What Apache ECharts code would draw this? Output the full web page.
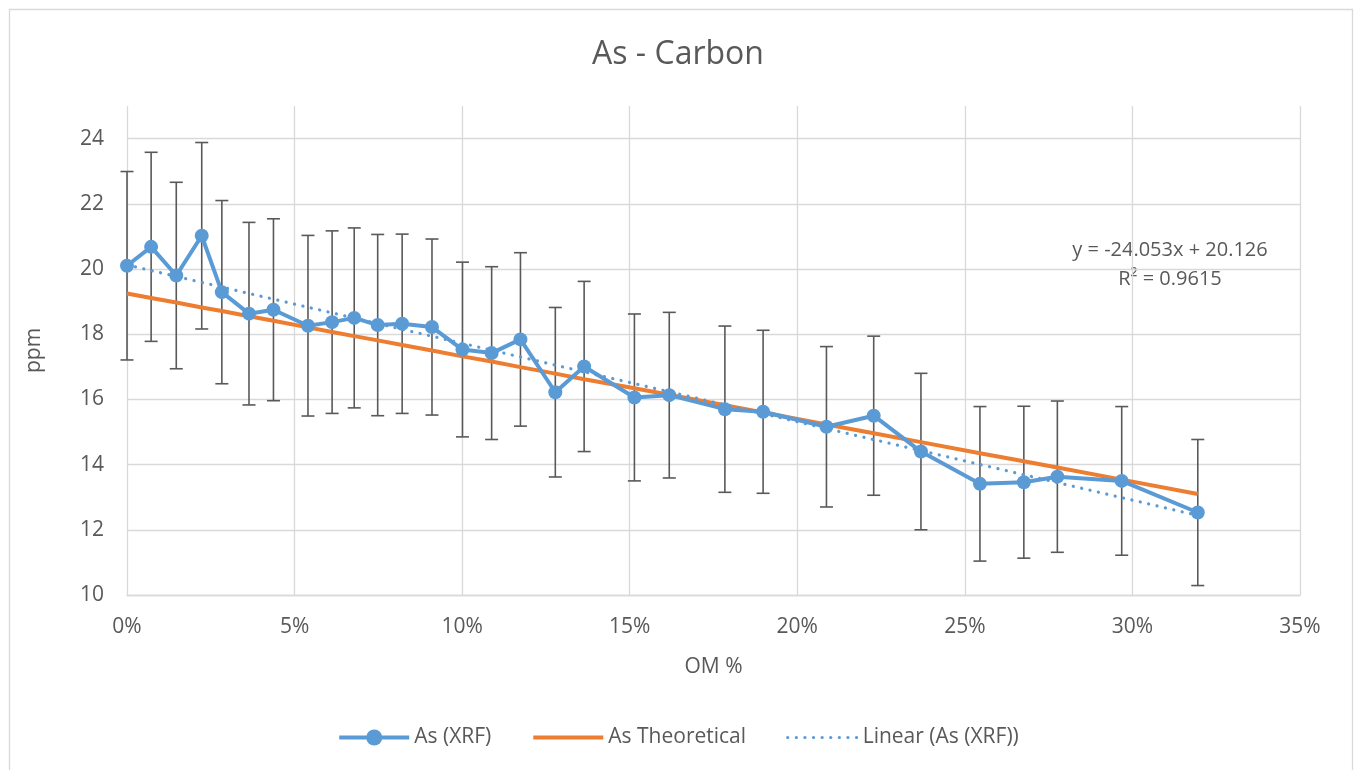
<!DOCTYPE html>
<html>
<head>
<meta charset="utf-8">
<title>As - Carbon</title>
<script src="https://cdn.jsdelivr.net/npm/echarts@6/dist/echarts.min.js"></script>
<style>
  html, body { margin: 0; padding: 0; background: #ffffff; }
  #chart { width: 1356px; height: 770px; }
</style>
</head>
<body>
<div id="chart"></div>
<script>
// Organic matter content (fraction, shown as %)
const omFraction = [
  0, 0.0072, 0.0147, 0.0223, 0.0283, 0.0364, 0.0437, 0.0540, 0.0612, 0.0678,
  0.0748, 0.0821, 0.0910, 0.1001, 0.1088, 0.1174, 0.1278, 0.1364, 0.1514, 0.1618,
  0.1784, 0.1898, 0.2087, 0.2228, 0.2369, 0.2545, 0.2676, 0.2776, 0.2968, 0.3195
];
// Measured arsenic by XRF (ppm)
const asXrf = [
  20.10, 20.68, 19.80, 21.02, 19.29, 18.63, 18.75, 18.26, 18.37, 18.50,
  18.28, 18.32, 18.22, 17.53, 17.42, 17.84, 16.22, 17.01, 16.06, 16.13,
  15.70, 15.62, 15.16, 15.50, 14.40, 13.41, 13.46, 13.63, 13.50, 12.53
];
// Measurement uncertainty (± ppm)
const asXrfError = [
  2.89, 2.90, 2.86, 2.86, 2.81, 2.80, 2.79, 2.77, 2.80, 2.76,
  2.78, 2.75, 2.70, 2.68, 2.65, 2.66, 2.60, 2.61, 2.56, 2.54,
  2.55, 2.50, 2.46, 2.44, 2.40, 2.37, 2.33, 2.32, 2.28, 2.24
];
// Expected arsenic from dilution by organic matter (ppm)
const asTheoretical = [
  19.25, 19.11, 18.97, 18.82, 18.71, 18.55, 18.41, 18.21, 18.07, 17.94,
  17.81, 17.67, 17.50, 17.32, 17.16, 16.99, 16.79, 16.62, 16.34, 16.14,
  15.82, 15.60, 15.23, 14.96, 14.69, 14.35, 14.10, 13.91, 13.54, 13.10
];
// Least-squares fit of the XRF series
const trendSlope = -24.053;
const trendIntercept = 20.126;
const trendR2 = 0.9615;

const seriesNames = ['As (XRF)', 'As Theoretical', 'Linear (As (XRF))'];

const TEXT = '#595959';
const GRID = '#d9d9d9';
const FONT = 'Open Sans';
const BLUE = '#5B9BD5';
const ORANGE = '#ED7D31';
const NO_MARK = { color: 'rgba(0,0,0,0)', borderWidth: 0, opacity: 0 };

const xrfData = omFraction.map((x, i) => [x, asXrf[i]]);
const theoData = omFraction.map((x, i) => [x, asTheoretical[i]]);
const errData = omFraction.map((x, i) => [x, asXrf[i], asXrfError[i]]);
const xStart = omFraction[0];
const xEnd = omFraction[omFraction.length - 1];
const trendData = [
  [xStart, trendIntercept + trendSlope * xStart],
  [xEnd, trendIntercept + trendSlope * xEnd]
];

const chart = echarts.init(document.getElementById('chart'), null, { renderer: 'canvas' });

const option = {
  backgroundColor: '#ffffff',
  animation: false,
  textStyle: { fontFamily: FONT },
  title: {
    text: 'As - Carbon',
    left: 'center',
    top: 34,
    textStyle: { fontFamily: FONT, fontSize: 32, fontWeight: 'normal', color: TEXT }
  },
  grid: { left: 127, right: 56, top: 106, bottom: 175, containLabel: false },
  legend: {
    bottom: 17,
    left: 'center',
    itemWidth: 70,
    itemHeight: 20,
    itemGap: 40,
    data: [
      { name: seriesNames[0], lineStyle: { width: 4, color: BLUE } },
      { name: seriesNames[1], itemStyle: NO_MARK, lineStyle: { width: 4, color: ORANGE } },
      { name: seriesNames[2], itemStyle: NO_MARK, lineStyle: { width: 3.2, color: BLUE, type: [0.1, 8.5], cap: 'round' } }
    ],
    textStyle: { fontFamily: FONT, fontSize: 21, color: TEXT }
  },
  xAxis: {
    type: 'value',
    min: 0,
    max: 0.35,
    interval: 0.05,
    name: 'OM %',
    nameLocation: 'middle',
    nameGap: 62,
    nameTextStyle: { fontFamily: FONT, fontSize: 21, color: TEXT },
    axisLine: { show: true, lineStyle: { color: GRID, width: 1.3 } },
    axisTick: { show: false },
    axisLabel: {
      margin: 22,
      fontFamily: FONT, fontSize: 21, color: TEXT,
      formatter: v => Math.round(v * 100) + '%'
    },
    splitLine: { show: true, lineStyle: { color: GRID, width: 1.3 } }
  },
  yAxis: {
    type: 'value',
    min: 10,
    max: 25,
    interval: 2,
    name: 'ppm',
    nameLocation: 'middle',
    nameGap: 82,
    nameRotate: 90,
    nameTextStyle: { fontFamily: FONT, fontSize: 21, color: TEXT },
    axisLine: { show: false },
    axisTick: { show: false },
    axisLabel: {
      margin: 23,
      fontFamily: FONT, fontSize: 21, color: TEXT,
      showMaxLabel: false,
      formatter: v => (v === 25 ? '' : String(v))
    },
    splitLine: { show: true, showMaxLine: false, lineStyle: { color: GRID, width: 1.3 } }
  },
  series: [
    {
      // ± error bars for the XRF readings
      type: 'custom',
      name: 'errorbars',
      data: errData,
      z: 1,
      silent: true,
      renderItem: function (params, api) {
        const x = api.value(0);
        const y = api.value(1);
        const e = api.value(2);
        const top = api.coord([x, y + e]);
        const bot = api.coord([x, y - e]);
        const half = 6.5;
        const style = { stroke: '#595959', lineWidth: 1.6, fill: null };
        return {
          type: 'group',
          children: [
            { type: 'line', shape: { x1: top[0], y1: top[1], x2: bot[0], y2: bot[1] }, style },
            { type: 'line', shape: { x1: top[0] - half, y1: top[1], x2: top[0] + half, y2: top[1] }, style },
            { type: 'line', shape: { x1: bot[0] - half, y1: bot[1], x2: bot[0] + half, y2: bot[1] }, style }
          ]
        };
      }
    },
    {
      name: seriesNames[1],
      type: 'line',
      data: theoData,
      z: 2,
      symbol: 'none',
      lineStyle: { color: ORANGE, width: 4 },
      itemStyle: { color: ORANGE }
    },
    {
      name: seriesNames[0],
      type: 'line',
      data: xrfData,
      z: 3,
      symbol: 'circle',
      symbolSize: 14,
      lineStyle: { color: BLUE, width: 4 },
      itemStyle: { color: BLUE, borderWidth: 0 }
    },
    {
      name: seriesNames[2],
      type: 'line',
      data: trendData,
      z: 4,
      symbol: 'none',
      lineStyle: { color: BLUE, width: 3.2, type: [0.1, 8.5], cap: 'round' },
      itemStyle: { color: BLUE }
    }
  ],
  graphic: [
    {
      type: 'rect',
      left: 7, top: 7,
      shape: { width: 1343, height: 780 },
      style: { fill: null, stroke: GRID, lineWidth: 1.3 },
      silent: true,
      z: -1
    },
    {
      type: 'text',
      x: 1170, y: 250,
      style: {
        text: 'y = ' + trendSlope.toFixed(3) + 'x + ' + trendIntercept.toFixed(3),
        fontFamily: FONT, fontSize: 20, fill: TEXT,
        textAlign: 'center', textVerticalAlign: 'middle'
      }
    },
    {
      type: 'text',
      x: 1170, y: 279,
      style: {
        text: 'R² = ' + trendR2.toFixed(4),
        fontFamily: FONT, fontSize: 20, fill: TEXT,
        textAlign: 'center', textVerticalAlign: 'middle'
      }
    }
  ]
};

chart.setOption(option);
</script>
</body>
</html>
